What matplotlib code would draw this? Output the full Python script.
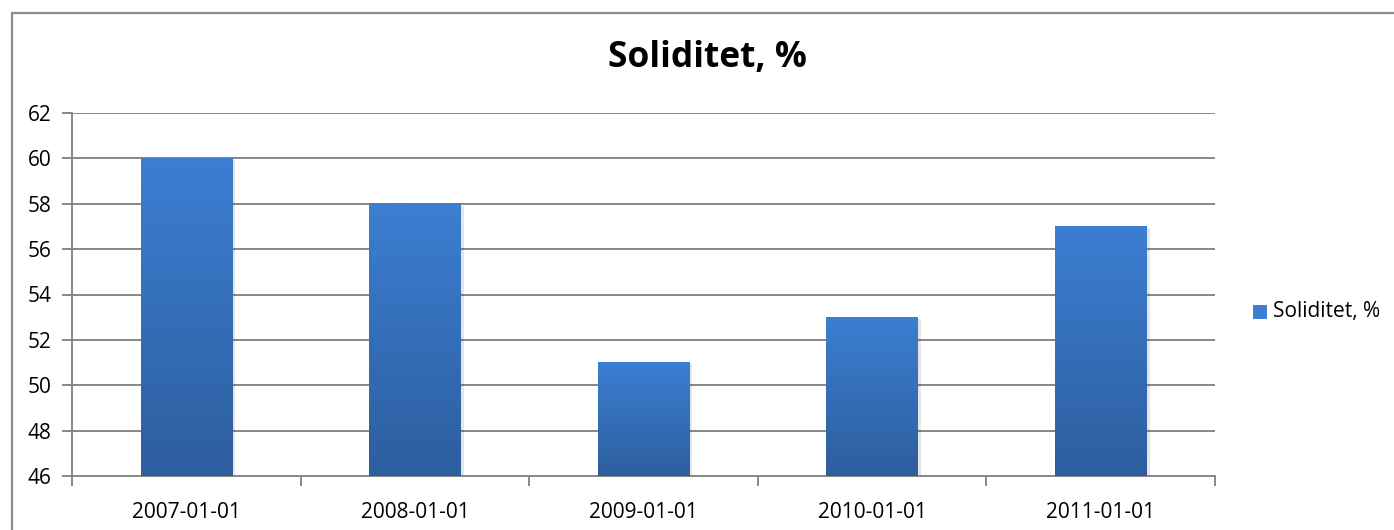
import matplotlib
matplotlib.use("Agg")
import matplotlib.pyplot as plt
import numpy as np
from matplotlib.patches import Rectangle
from matplotlib.colors import LinearSegmentedColormap

categories = ["2007-01-01", "2008-01-01", "2009-01-01", "2010-01-01", "2011-01-01"]
values = [60, 58, 51, 53, 57]
series_name = "Soliditet, %"
yticks = [46, 48, 50, 52, 54, 56, 58, 60, 62]

plt.rcParams['font.family'] = ['Open Sans', 'DejaVu Sans']

W, H = 1394, 530
fig = plt.figure(figsize=(W/100, H/100), dpi=100)
ax = fig.add_axes([72/W, 1-476/H, (1215-72)/W, (476-113)/H])

top_c = "#3C7ED2"
bot_c = "#2D5E9E"
cmap = LinearSegmentedColormap.from_list("g", [bot_c, top_c])

x = np.arange(len(categories))
bars = ax.bar(x, values, width=0.4, bottom=0, color="none", edgecolor="none", zorder=3)
ax.set_ylim(46, 62)
ax.set_xlim(-0.5, len(categories)-0.5)
grad = np.linspace(0, 1, 256).reshape(-1, 1)
for b in bars:
    x0, w = b.get_x(), b.get_width()
    y1 = b.get_height()
    ax.add_patch(Rectangle((x0+0.006, 46), w+0.008, y1-46-0.08, facecolor="#000000", alpha=0.10, edgecolor="none", zorder=2))
    ax.imshow(grad, extent=(x0, x0+w, 46, y1), origin="lower", cmap=cmap, aspect="auto", zorder=3)
ax.set_xlim(-0.5, len(categories)-0.5)
ax.set_ylim(46, 62)

ax.set_yticks(yticks)
ax.set_yticklabels([str(v) for v in yticks])
ax.yaxis.grid(True, color="#878787", linewidth=1.4, zorder=0)
ax.set_axisbelow(True)
ax.set_xticks(x)
ax.set_xticklabels(categories)
ax.tick_params(axis="x", length=0, pad=19, labelsize=15)
ax.tick_params(axis="y", length=7, width=1.4, color="#878787", pad=8, labelsize=15)
ax.set_xticks(np.arange(len(categories)+1)-0.5, minor=True)
ax.tick_params(axis="x", which="minor", length=7, width=1.4, color="#878787")
for s in ["top", "right"]:
    ax.spines[s].set_visible(False)
for s in ["left", "bottom"]:
    ax.spines[s].set_color("#878787")
    ax.spines[s].set_linewidth(1.4)

fig.text((608+807)/2/W, 1-58/H, series_name, ha="center", va="center", fontsize=25.5, fontweight="bold")

# legend
lx, ly = 1253, 312
fig.add_artist(Rectangle((lx/W, 1-(ly+7)/H), 14/W, 14/H, transform=fig.transFigure,
                         facecolor=top_c, edgecolor="none"))
fig.text((lx+20)/W, 1-ly/H, series_name, ha="left", va="center", fontsize=15)

# figure border
fig.add_artist(Rectangle((11.5/W, -0.1), 1.2, 1-12.5/H+0.1, transform=fig.transFigure,
                         facecolor="none", edgecolor="#8c8c8c", linewidth=1.6))

fig.savefig("out.png", dpi=100)
